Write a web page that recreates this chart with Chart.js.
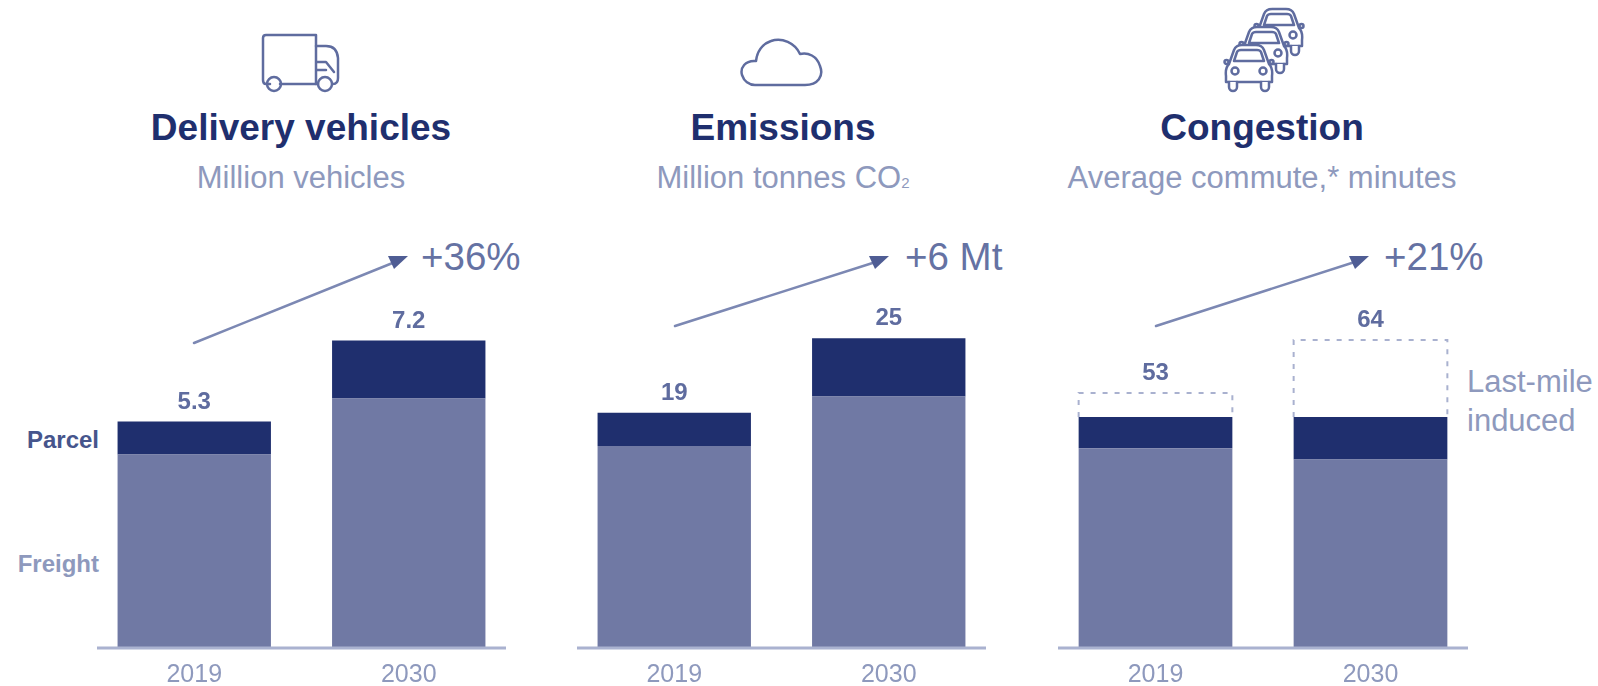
<!DOCTYPE html>
<html lang="en">
<head>
  <meta charset="UTF-8" />
  <title>Last-mile delivery impact</title>
  <style>
    html, body {
      margin: 0;
      width: 1598px;
      height: 686px;
      overflow: hidden;
      background: #fff;
      font-family: 'Liberation Sans', sans-serif;
    }

    canvas, svg, .txt {
      position: absolute;
    }

    .txt {
      white-space: nowrap;
      line-height: 1;
      transform: translateY(-50%);
    }

    .title {
      font-size: 37px;
      font-weight: bold;
      color: #1f2f6e;
      transform: translate(-50%, -50%);
    }

    .sub {
      font-size: 31px;
      color: #8e99bd;
      transform: translate(-50%, -50%);
    }

    .sub sub {
      font-size: 15px;
      vertical-align: baseline;
    }

    .delta {
      font-size: 38.5px;
      color: #6572a3;
    }

    .side {
      font-size: 24px;
      font-weight: bold;
      transform: translate(-100%, -50%);
    }

    .note {
      font-size: 31px;
      color: #8e99bd;
    }
  </style>
</head>
<body>
  <svg width="1598" height="686" fill="none" stroke="#5f6c9f" stroke-width="2.5" stroke-linejoin="round" stroke-linecap="round">
    <defs>
      <g id="car">
        <path fill="#fff" d="M5 20 L10 6 Q12 1 18 1 H32 Q38 1 40 6 L45 20 Q49 24 48 32 V38 H2 V32 Q1 24 5 20 Z" />
        <path d="M10 17 L13 8 Q14 6 17 6 H33 Q36 6 37 8 L40 17 Z" />
        <circle cx="2.5" cy="18" r="2" />
        <circle cx="47.5" cy="18" r="2" />
        <circle cx="11" cy="27" r="3.5" />
        <circle cx="39" cy="27" r="3.5" />
        <path fill="#fff" d="M5 38 V43 A4 4 0 0 0 13 43 V38 M37 38 V43 A4 4 0 0 0 45 43 V38" />
      </g>
    </defs>

    <!-- truck -->
    <path d="M270 84 H266 Q263 84 263 80 V38 Q263 35 266 35 H316 V84 H280" />
    <path d="M316 46 H326 Q337 46 338 58 V78 Q338 84 333 84 M316 84 H318" />
    <path d="M317 62 H326 L334 72 M317 70 H326" />
    <circle cx="274" cy="84" r="7" />
    <circle cx="325" cy="84" r="7" />

    <!-- cloud -->
    <path d="M755 85 H805 C818 85 824 76 820 66 C817 56 808 52 800 54 C795 43 782 37 771 41 C762 44 757 52 756 61 C745 60 740 68 742 75 C744 81 749 85 755 85 Z" />

    <!-- queue of cars -->
    <use href="#car" x="1254" y="8" />
    <use href="#car" x="1239" y="26" />
    <use href="#car" x="1224" y="44" />

    <!-- growth arrows -->
    <path stroke="#7c88b3" d="M194 343 L400 260" />
    <path stroke="#7c88b3" d="M675 326 L882 260" />
    <path stroke="#7c88b3" d="M1156 326 L1361 260" />
    <g fill="#4f5d94" stroke="none">
      <path d="M388 256 H408 L394 269 Z" />
      <path d="M869 256 H889 L875 269 Z" />
      <path d="M1349 256 H1369 L1355 269 Z" />
    </g>
  </svg>

  <div class="txt title" style="left:301px;top:127px">Delivery vehicles</div>
  <div class="txt sub" style="left:301px;top:177px">Million vehicles</div>
  <div class="txt delta" style="left:421px;top:257px">+36%</div>
  <div class="txt side" style="left:99px;top:440px;color:#46558c">Parcel</div>
  <div class="txt side" style="left:99px;top:564px;color:#8e99bd">Freight</div>

  <div class="txt title" style="left:783px;top:127px">Emissions</div>
  <div class="txt sub" style="left:783px;top:177px">Million tonnes CO<sub>2</sub></div>
  <div class="txt delta" style="left:905px;top:257px">+6 Mt</div>

  <div class="txt title" style="left:1262px;top:127px">Congestion</div>
  <div class="txt sub" style="left:1262px;top:177px">Average commute,* minutes</div>
  <div class="txt delta" style="left:1384px;top:257px">+21%</div>
  <div class="txt note" style="left:1467px;top:381px">Last-mile</div>
  <div class="txt note" style="left:1467px;top:420px">induced</div>

  <canvas id="delivery" width="429" height="396" style="left:87px;top:290px"></canvas>
  <canvas id="emissions" width="429" height="396" style="left:567px;top:290px"></canvas>
  <canvas id="congestion" width="430" height="396" style="left:1048px;top:290px"></canvas>

  <script src="https://cdn.jsdelivr.net/npm/chart.js"></script>
  <script>
    const years = ['2019', '2030'];

    const deliveryFreight = [4.53, 5.84];
    const deliveryParcel = [0.77, 1.36];
    const deliveryTotals = ['5.3', '7.2'];

    const emissionsFreight = [16.3, 20.3];
    const emissionsParcel = [2.7, 4.7];
    const emissionsTotals = ['19', '25'];

    const congestionFreight = [41.5, 39.2];
    const congestionParcel = [6.5, 8.8];
    const congestionLastMile = [5, 16];
    const congestionTotals = ['53', '64'];

    const FREIGHT_COLOR = '#7079a4';
    const PARCEL_COLOR = '#1f2f6e';
    const AXIS_COLOR = '#aab2d0';

    // baseline, dotted outlines and the total over each stack
    const panelDecor = {
      id: 'panelDecor',
      afterDatasetsDraw(chart, args, opts) {
        const { ctx, chartArea } = chart;

        ctx.save();
        ctx.strokeStyle = AXIS_COLOR;
        ctx.lineWidth = 3;
        ctx.beginPath();
        ctx.moveTo(chartArea.left + 10, chartArea.bottom);
        ctx.lineTo(chartArea.right - 10, chartArea.bottom);
        ctx.stroke();

        const top = chart.getDatasetMeta(chart.data.datasets.length - 1).data;

        if (opts.dotted) {
          ctx.strokeStyle = '#a9b1cf';
          ctx.lineWidth = 2;
          ctx.setLineDash([5, 7]);
          top.forEach(bar => {
            const half = bar.width / 2;
            ctx.beginPath();
            ctx.moveTo(bar.x - half, bar.base);
            ctx.lineTo(bar.x - half, bar.y);
            ctx.lineTo(bar.x + half, bar.y);
            ctx.lineTo(bar.x + half, bar.base);
            ctx.stroke();
          });
          ctx.setLineDash([]);
        }

        ctx.fillStyle = '#5f6c9f';
        ctx.font = "bold 24px 'Liberation Sans'";
        ctx.textAlign = 'center';
        ctx.textBaseline = 'middle';
        top.forEach((bar, i) => ctx.fillText(opts.totals[i], bar.x, bar.y - 19.5));
        ctx.restore();
      }
    };

    function drawPanel(id, datasets, yMax, totals, dotted) {
      new Chart(document.getElementById(id), {
        type: 'bar',
        data: { labels: years, datasets },
        plugins: [panelDecor],
        options: {
          responsive: false,
          animation: false,
          layout: { padding: 0 },
          datasets: { bar: { categoryPercentage: 1, barPercentage: 0.715 } },
          scales: {
            x: {
              stacked: true,
              grid: { display: false },
              border: { display: false },
              afterFit(scale) { scale.height = 38; },
              ticks: {
                color: '#8e99bd',
                padding: 4,
                font: { family: "'Liberation Sans'", size: 25 }
              }
            },
            y: { stacked: true, display: false, min: 0, max: yMax }
          },
          plugins: {
            legend: { display: false },
            tooltip: { enabled: false },
            panelDecor: { totals, dotted }
          }
        }
      });
    }

    drawPanel('delivery', [
      { label: 'Freight', data: deliveryFreight, backgroundColor: FREIGHT_COLOR },
      { label: 'Parcel', data: deliveryParcel, backgroundColor: PARCEL_COLOR }
    ], 8.38, deliveryTotals, false);

    drawPanel('emissions', [
      { label: 'Freight', data: emissionsFreight, backgroundColor: FREIGHT_COLOR },
      { label: 'Parcel', data: emissionsParcel, backgroundColor: PARCEL_COLOR }
    ], 28.9, emissionsTotals, false);

    drawPanel('congestion', [
      { label: 'Freight', data: congestionFreight, backgroundColor: FREIGHT_COLOR },
      { label: 'Parcel', data: congestionParcel, backgroundColor: PARCEL_COLOR },
      { label: 'Last-mile induced', data: congestionLastMile, backgroundColor: 'rgba(0,0,0,0)' }
    ], 74.4, congestionTotals, true);
  </script>
</body>
</html>
